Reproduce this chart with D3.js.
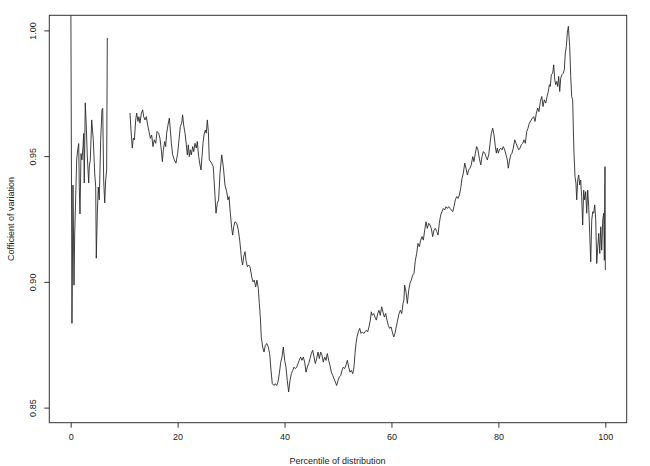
<!DOCTYPE html>
<html><head><meta charset="utf-8">
<script src="https://cdnjs.cloudflare.com/ajax/libs/d3/7.8.5/d3.min.js"></script>
<style>body{margin:0;background:#fff}svg{display:block}text{font-family:"Liberation Sans",Arial,Helvetica,sans-serif}</style>
</head><body><svg id="c" width="650" height="466"></svg>
<script>
const xTicks=[0,20,40,60,80,100];
const yTicks=[0.85,0.90,0.95,1.00];
const yTickLabels=["0.85","0.90","0.95","1.00"];
const xTitle="Percentile of distribution";
const yTitle="Cofficient of variation";

// first run of the curve (before the missing stretch)
const pctA=[0,0.24,0.43,0.62,0.75,0.99,1.12,1.31,1.50,1.61,1.74,1.93,2.11,2.30,2.43,2.54,2.73,2.92,3.11,3.37,3.48,3.67,3.93,4.23,4.49,4.68,4.79,4.98,5.16,5.35,5.61,5.85,5.99,6.17,6.36,6.55,6.73,6.85];
const cvA=[1.03,0.8835,0.9385,0.8987,0.919,0.9377,0.9485,0.9525,0.955,0.9377,0.927,0.951,0.9485,0.9537,0.959,0.9393,0.9712,0.962,0.950,0.9393,0.9457,0.9485,0.9644,0.9565,0.9433,0.9377,0.9094,0.927,0.9377,0.9326,0.9565,0.9684,0.969,0.9405,0.9314,0.9405,0.9445,0.997];

// second run of the curve
const pctB=[11.09,11.28,11.52,11.72,11.91,12.16,12.34,12.59,12.77,12.96,13.22,13.47,13.65,13.90,14.14,14.40,14.65,14.90,15.15,15.39,15.64,15.90,16.15,16.46,16.70,16.95,17.15,17.33,17.58,17.77,17.95,18.20,18.45,18.64,18.83,19.08,19.38,19.69,20.02,20.26,20.51,20.76,20.94,21.13,21.39,21.63,21.82,22.0,22.19,22.38,22.56,22.82,23.01,23.25,23.50,23.68,23.94,24.19,24.38,24.56,24.75,24.93,25.18,25.36,25.56,25.75,
25.93,26.36,26.67,27.0,27.18,27.42,27.67,27.93,28.25,28.55,28.86,29.18,29.42,29.62,29.86,30.12,30.30,30.49,30.73,31.06,31.36,31.61,31.80,31.98,32.17,32.36,32.61,32.79,33.04,33.29,33.54,33.86,34.10,34.34,34.60,34.84,35.09,35.28,35.47,35.65,35.91,36.16,36.41,36.67,36.96,37.22,37.47,37.71,38.03,38.27,38.53,38.78,39.02,39.29,39.53,39.77,40.03,40.27,40.51,40.77,41.02,41.27,41.53,41.77,42.02,42.28,42.52,42.76,43.02,43.26,43.51,43.77,44.02,44.26,44.52,44.77,45.01,45.27,45.52,45.76,46.01,46.26,
46.51,46.76,47.01,47.25,47.52,47.76,48.0,48.26,48.50,48.76,49.01,49.25,49.50,49.75,50.0,50.25,50.51,50.75,50.99,51.25,51.49,51.75,52.01,52.25,52.49,52.75,52.99,53.18,53.37,53.56,53.80,54.06,54.31,54.55,54.81,55.05,55.30,55.55,55.80,56.05,56.23,56.42,56.68,56.92,57.17,57.43,57.67,57.91,58.17,58.41,58.67,58.93,59.17,59.41,59.67,59.92,60.16,60.42,60.66,60.90,61.16,61.42,61.66,61.92,62.16,62.32,
62.47,62.72,62.97,63.23,63.47,63.71,63.97,64.22,64.47,64.72,64.96,65.21,65.47,65.72,65.96,66.22,66.46,66.70,66.97,67.21,67.45,67.71,67.95,68.20,68.47,68.71,68.95,69.21,69.45,69.70,69.96,70.20,70.45,70.70,70.96,71.20,71.46,71.70,71.94,72.20,72.45,72.70,72.95,73.20,73.44,73.71,73.95,74.19,74.45,74.69,74.93,75.20,75.44,75.69,75.94,76.18,76.43,76.70,76.94,77.18,77.44,77.68,77.93,78.19,78.44,78.68,78.94,79.19,79.43,79.62,79.80,79.99,80.17,80.43,80.68,80.92,81.18,81.43,81.67,81.85,82.05,82.31,82.55,82.79,83.06,83.30,83.54,83.80,84.05,84.29,84.55,84.80,85.04,85.30,85.54,85.78,
86.35,86.60,86.85,87.10,87.35,87.59,87.85,88.11,88.35,88.59,88.85,89.10,89.34,89.53,89.71,89.90,90.16,90.35,90.54,90.73,90.91,91.10,91.28,91.47,91.66,91.90,92.15,92.33,92.52,92.71,92.89,93.09,93.21,93.34,93.53,93.71,93.90,94.02,94.14,94.33,94.51,94.65,94.84,95.02,95.21,95.39,95.58,95.77,95.95,96.14,96.33,96.52,96.71,96.89,97.08,97.27,97.46,97.65,97.83,98.02,98.21,98.39,98.59,98.77,98.96,99.15,99.33,99.52,99.70,99.82,99.94,100.0];
const cvB=[0.9672,0.9604,0.9532,0.9572,0.9565,0.9644,0.9671,0.9638,0.9657,0.9631,0.9671,0.9684,0.9657,0.9644,0.9657,0.9624,0.9598,0.9571,0.9584,0.9538,0.9565,0.9551,0.9598,0.9591,0.9571,0.9525,0.9478,0.9525,0.9558,0.9538,0.9591,0.9624,0.9651,0.9604,0.9551,0.9505,0.9485,0.9472,0.9512,0.9565,0.9618,0.9631,0.9664,0.9624,0.9591,0.9545,0.9505,0.9545,0.9498,0.9525,0.9505,0.9538,0.9518,0.9551,0.9532,0.9558,0.9498,0.9465,0.9445,0.9498,0.9551,0.9584,0.9604,0.9591,0.9644,0.9598,
0.9485,0.9472,0.9458,0.9339,0.9273,0.9312,0.9326,0.9432,0.9505,0.9458,0.9385,0.9359,0.9326,0.9339,0.9273,0.9213,0.9186,0.9219,0.9239,0.9233,0.9206,0.9166,0.9126,0.9086,0.9067,0.91,0.912,0.9086,0.906,0.9067,0.906,0.902,0.9,0.9007,0.898,0.9007,0.8974,0.8914,0.8861,0.8781,0.8741,0.8721,0.8748,0.8755,0.8741,0.8715,0.8648,0.8595,0.8588,0.8595,0.8588,0.8602,0.8635,0.8681,0.8701,0.8741,0.8688,0.8661,0.8608,0.8562,0.8608,0.8635,0.8648,0.8661,0.8655,0.8661,0.8675,0.8688,0.8701,0.8688,0.8701,0.8681,0.8641,0.8661,0.8675,0.8695,0.8715,0.8728,0.8701,0.8675,0.8695,0.8721,
0.8695,0.8721,0.8708,0.8681,0.8701,0.8688,0.8715,0.8688,0.8668,0.8641,0.8628,0.8615,0.8602,0.8588,0.8608,0.8622,0.8628,0.8648,0.8661,0.8655,0.8668,0.8688,0.8661,0.8641,0.8648,0.8635,0.8661,0.8715,0.8755,0.8781,0.8801,0.8815,0.8795,0.8801,0.8795,0.8801,0.8808,0.8801,0.8821,0.8848,0.8881,0.8867,0.8874,0.886,0.8848,0.8874,0.8887,0.8867,0.8901,0.888,0.886,0.8874,0.8848,0.8827,0.8815,0.8821,0.8801,0.8781,0.8795,0.8821,0.8848,0.8874,0.8887,0.8874,0.8914,0.8927,
0.8987,0.896,0.8914,0.8967,0.8994,0.9007,0.9027,0.9034,0.9086,0.9113,0.9153,0.914,0.9166,0.918,0.9166,0.9206,0.9239,0.9213,0.9233,0.9226,0.9213,0.918,0.9206,0.9213,0.92,0.9186,0.9233,0.9266,0.9279,0.9292,0.9286,0.9299,0.9292,0.9299,0.9292,0.9286,0.9279,0.9299,0.9326,0.9339,0.9332,0.9345,0.9372,0.9412,0.9432,0.9472,0.9452,0.9425,0.9445,0.9452,0.9465,0.9498,0.9478,0.9512,0.9538,0.9525,0.9492,0.9465,0.9498,0.9518,0.9512,0.9498,0.9485,0.9505,0.9551,0.9591,0.9611,0.9584,0.9538,0.9512,0.9532,0.9512,0.9525,0.9532,0.9525,0.9538,0.9525,0.9505,0.9485,0.9452,0.9478,0.9505,0.9512,0.9532,0.9565,0.9551,0.9538,0.9525,0.9532,0.9545,0.9551,0.9565,0.9551,0.9598,0.9611,0.9631,
0.9651,0.9657,0.9638,0.9671,0.9691,0.9677,0.9717,0.9737,0.9697,0.9724,0.9711,0.9737,0.9757,0.9784,0.9777,0.9824,0.983,0.9863,0.9804,0.9784,0.9797,0.9777,0.9817,0.9757,0.981,0.9824,0.983,0.9843,0.991,0.9936,0.999,1.0016,0.9976,0.9936,0.9817,0.9737,0.9724,0.9604,0.9512,0.9418,0.9392,0.9326,0.9405,0.9425,0.9385,0.9405,0.9339,0.9226,0.9365,0.9326,0.9359,0.9273,0.9365,0.9299,0.9193,0.908,0.9246,0.9279,0.9273,0.9306,0.9246,0.9073,0.914,0.9193,0.9113,0.9219,0.9126,0.9246,0.9273,0.9086,0.9458,0.9047];

const L=49.3,R=626.7,T=15.3,B=422.7;
const svg=d3.select("#c");
svg.append("rect").attr("width",650).attr("height",466).attr("fill","#fff");
const x=d3.scaleLinear().domain([-4,104]).range([L,R]);
const y=d3.scaleLinear().domain([0.844,1.006]).range([B,T]);

svg.append("defs").append("clipPath").attr("id","clip")
  .append("rect").attr("x",L).attr("y",T).attr("width",R-L).attr("height",B-T);

const line=d3.line().x(d=>x(d[0])).y(d=>y(d[1]));
const segs=[d3.zip(pctA,cvA),d3.zip(pctB,cvB)];
svg.append("g").attr("clip-path","url(#clip)").selectAll("path").data(segs).join("path")
  .attr("d",line).attr("fill","none").attr("stroke","#2a2a2a").attr("stroke-width",0.9)
  .attr("stroke-linejoin","round");

svg.append("rect").attr("x",L).attr("y",T).attr("width",R-L).attr("height",B-T)
  .attr("fill","none").attr("stroke","#333").attr("stroke-width",1);

const gx=svg.append("g").attr("transform",`translate(0,${B})`)
  .call(d3.axisBottom(x).tickValues(xTicks).tickFormat(d3.format("d")).tickSize(5).tickPadding(6));
gx.select(".domain").remove();
gx.selectAll(".tick line").attr("stroke","#333");
gx.selectAll(".tick text").attr("font-size",9).attr("fill","#222").style("font-family","'Liberation Sans',Arial,sans-serif");

const gy=svg.append("g").attr("transform",`translate(${L},0)`)
  .call(d3.axisLeft(y).tickValues(yTicks).tickFormat((d,i)=>yTickLabels[i]).tickSize(5));
gy.select(".domain").remove();
gy.selectAll(".tick line").attr("stroke","#333");
gy.selectAll(".tick text").attr("font-size",9).attr("fill","#222")
  .style("font-family","'Liberation Sans',Arial,sans-serif")
  .attr("transform","rotate(-90)").attr("x",0).attr("y",-13.8).attr("dy",0).attr("text-anchor","middle");

svg.append("text").attr("x",(L+R)/2-0.5).attr("y",464).attr("text-anchor","middle")
  .attr("font-size",9).attr("fill","#222").text(xTitle);
svg.append("text").attr("transform",`translate(13.5,${(T+B)/2}) rotate(-90)`).attr("text-anchor","middle")
  .attr("font-size",9).attr("fill","#222").text(yTitle);
</script></body></html>
